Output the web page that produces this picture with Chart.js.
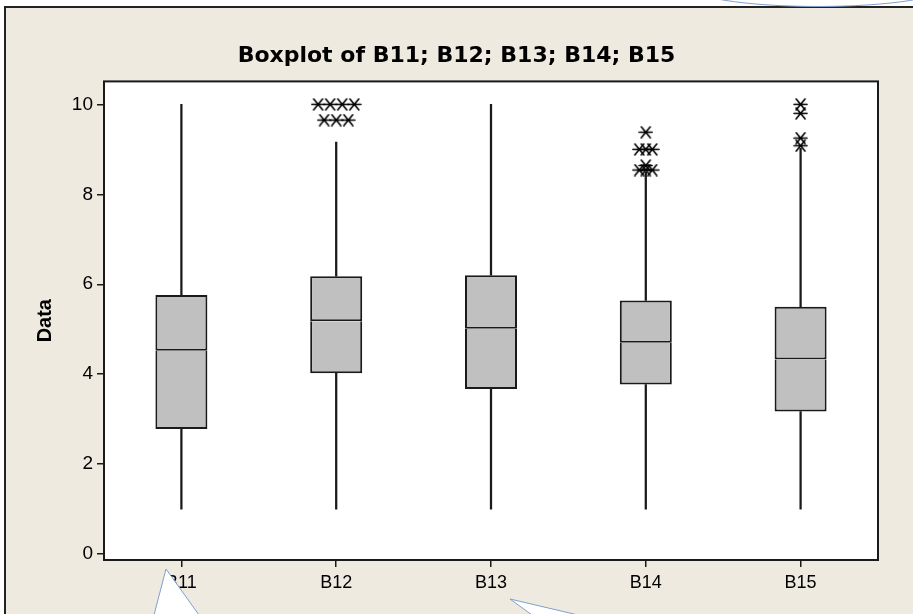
<!DOCTYPE html>
<html>
<head>
<meta charset="utf-8">
<script src="https://cdn.jsdelivr.net/npm/chart.js@4.4.1/dist/chart.umd.min.js"></script>
<style>
    html, body { margin: 0; padding: 0; background: #fff; }
    canvas { display: block; }
</style>
</head>
<body>
<canvas id="boxplot" width="913" height="614"></canvas>
<script>
// dados
const categories = ['B11', 'B12', 'B13', 'B14', 'B15'];
const whiskerLow = [1, 1, 1, 1, 1];
const q1 = [2.78, 4.02, 3.67, 3.77, 3.17];
const median = [4.52, 5.18, 5.01, 4.70, 4.33];
const q3 = [5.76, 6.18, 6.20, 5.64, 5.50];
const whiskerHigh = [10, 9.16, 10, 8.49, 9.02];
const outliersB12 = [10, 10, 10, 10, 9.65, 9.65, 9.65];
const outliersB14 = [9.38, 9.0, 9.0, 9.0, 8.64, 8.54, 8.54, 8.54];
const outliersB15 = [10, 9.8, 9.25, 9.08];
const outliers = [[], outliersB12, [], outliersB14, outliersB15];
const yTicks = [0, 2, 4, 6, 8, 10];

const FONT = "'Liberation Sans', Arial, sans-serif";
const BOX_FILL = '#c0c0c0';
const INK = '#1a1a1a';
const PANEL = '#eeeae0';
const CALLOUT = '#7f9fd0';
// distância entre asteriscos repetidos (em unidades de categoria)
const SPREAD = [0.078, 0.078, 0.078, 0.042, 0.078];

// asterisco no estilo Minitab
function makeAsterisk() {
    const c = document.createElement('canvas');
    c.width = 15; c.height = 13;
    const g = c.getContext('2d');
    g.strokeStyle = '#000';
    g.lineWidth = 1.6;
    g.lineCap = 'round';
    g.beginPath();
    g.moveTo(1, 6.5); g.lineTo(14, 6.5);
    g.moveTo(3, 1); g.lineTo(12, 12);
    g.moveTo(12, 1); g.lineTo(3, 12);
    g.stroke();
    return c;
}

// valores repetidos ficam lado a lado, como no Minitab
function spreadOutliers(list, idx) {
    const step = SPREAD[idx];
    const counts = {};
    list.forEach(v => counts[v] = (counts[v] || 0) + 1);
    const seen = {};
    return list.map(v => {
        const k = seen[v] = (seen[v] || 0) + 1;
        return { x: idx + (k - 1 - (counts[v] - 1) / 2) * step, y: v };
    });
}

const outlierPoints = outliers.flatMap((list, i) => spreadOutliers(list, i));

const boxDataset = (data, border) => ({
    type: 'bar',
    data: data,
    backgroundColor: BOX_FILL,
    borderColor: INK,
    borderWidth: border,
    borderSkipped: false,
    grouped: false,
    categoryPercentage: 1,
    barPercentage: 0.336
});
const whiskerDataset = (data) => ({
    type: 'bar',
    data: data,
    backgroundColor: INK,
    borderWidth: 0,
    grouped: false,
    barThickness: 1.6
});

const panelPlugin = {
    id: 'panel',
    beforeDraw(chart) {
        const { ctx, chartArea: a } = chart;
        ctx.save();
        ctx.fillStyle = '#fff';
        ctx.fillRect(0, 0, chart.width, chart.height);
        ctx.fillStyle = PANEL;
        ctx.fillRect(5, 7, chart.width, chart.height);
        ctx.strokeStyle = '#222';
        ctx.lineWidth = 2;
        ctx.beginPath();
        ctx.moveTo(5, chart.height);
        ctx.lineTo(5, 7);
        ctx.lineTo(chart.width, 7);
        ctx.stroke();
        ctx.fillStyle = '#fff';
        ctx.fillRect(a.left, a.top, a.right - a.left, a.bottom - a.top);
        ctx.restore();
    },
    afterDraw(chart) {
        const { ctx, chartArea: a } = chart;
        ctx.save();
        ctx.strokeStyle = INK;
        ctx.lineWidth = 2;
        ctx.strokeRect(a.left, a.top, a.right - a.left, a.bottom - a.top);

        // balões de comentário que cobrem parte da figura
        ctx.fillStyle = '#fff';
        ctx.strokeStyle = CALLOUT;
        ctx.lineWidth = 1;
        ctx.beginPath();
        ctx.ellipse(818, -14, 130, 20.5, 0, 0, Math.PI * 2);
        ctx.fill();
        ctx.stroke();

        ctx.beginPath();
        ctx.moveTo(154, 615);
        ctx.lineTo(166, 569);
        ctx.lineTo(199, 615);
        ctx.closePath();
        ctx.fill();
        ctx.stroke();

        ctx.beginPath();
        ctx.moveTo(532, 615);
        ctx.lineTo(510, 599);
        ctx.lineTo(578, 615);
        ctx.closePath();
        ctx.fill();
        ctx.stroke();
        ctx.restore();
    }
};

new Chart(document.getElementById('boxplot'), {
    type: 'bar',
    data: {
        labels: categories,
        datasets: [
            {
                type: 'scatter',
                xAxisID: 'xo',
                data: outlierPoints,
                pointStyle: makeAsterisk(),
                pointRadius: 6
            },
            boxDataset(q1.map((v, i) => [v, median[i]]), { left: 2, right: 2, bottom: 2, top: 0 }),
            boxDataset(median.map((v, i) => [v, q3[i]]), { left: 2, right: 2, bottom: 2, top: 2 }),
            whiskerDataset(whiskerLow.map((v, i) => [v, q1[i]])),
            whiskerDataset(q3.map((v, i) => [v, whiskerHigh[i]]))
        ]
    },
    options: {
        responsive: false,
        animation: false,
        layout: { padding: 0 },
        plugins: {
            legend: { display: false },
            tooltip: { enabled: false },
            title: {
                display: true,
                text: 'Boxplot of B11; B12; B13; B14; B15',
                color: '#000',
                font: { family: "'DejaVu Sans', sans-serif", size: 22, weight: 'bold' },
                padding: { top: 43, bottom: 12 }
            }
        },
        scales: {
            x: {
                offset: true,
                grid: { offset: false, drawOnChartArea: false, color: INK, lineWidth: 1.5, tickLength: 7 },
                border: { display: false },
                ticks: { color: '#000', font: { family: FONT, size: 18 }, padding: 5 },
                afterFit(scale) { scale.height = 54; }
            },
            xo: {
                type: 'linear',
                display: false,
                offset: false,
                min: -0.5,
                max: categories.length - 0.5
            },
            y: {
                min: -0.13,
                max: 10.51,
                grid: { drawOnChartArea: false, color: INK, lineWidth: 1.5, tickLength: 7 },
                border: { display: false },
                afterBuildTicks(scale) { scale.ticks = yTicks.map(v => ({ value: v })); },
                ticks: { color: '#000', font: { family: FONT, size: 19 }, padding: 4 },
                title: {
                    display: true,
                    text: 'Data',
                    color: '#000',
                    font: { family: FONT, size: 20, weight: 'bold' },
                    padding: { top: 33, bottom: 0 }
                },
                afterFit(scale) { scale.width = 104; }
            },
            // eixo vazio só para reservar a margem direita
            yr: {
                position: 'right',
                grid: { display: false },
                ticks: { display: false },
                border: { display: false },
                afterFit(scale) { scale.width = 35; }
            }
        }
    },
    plugins: [panelPlugin]
});
</script>
</body>
</html>
